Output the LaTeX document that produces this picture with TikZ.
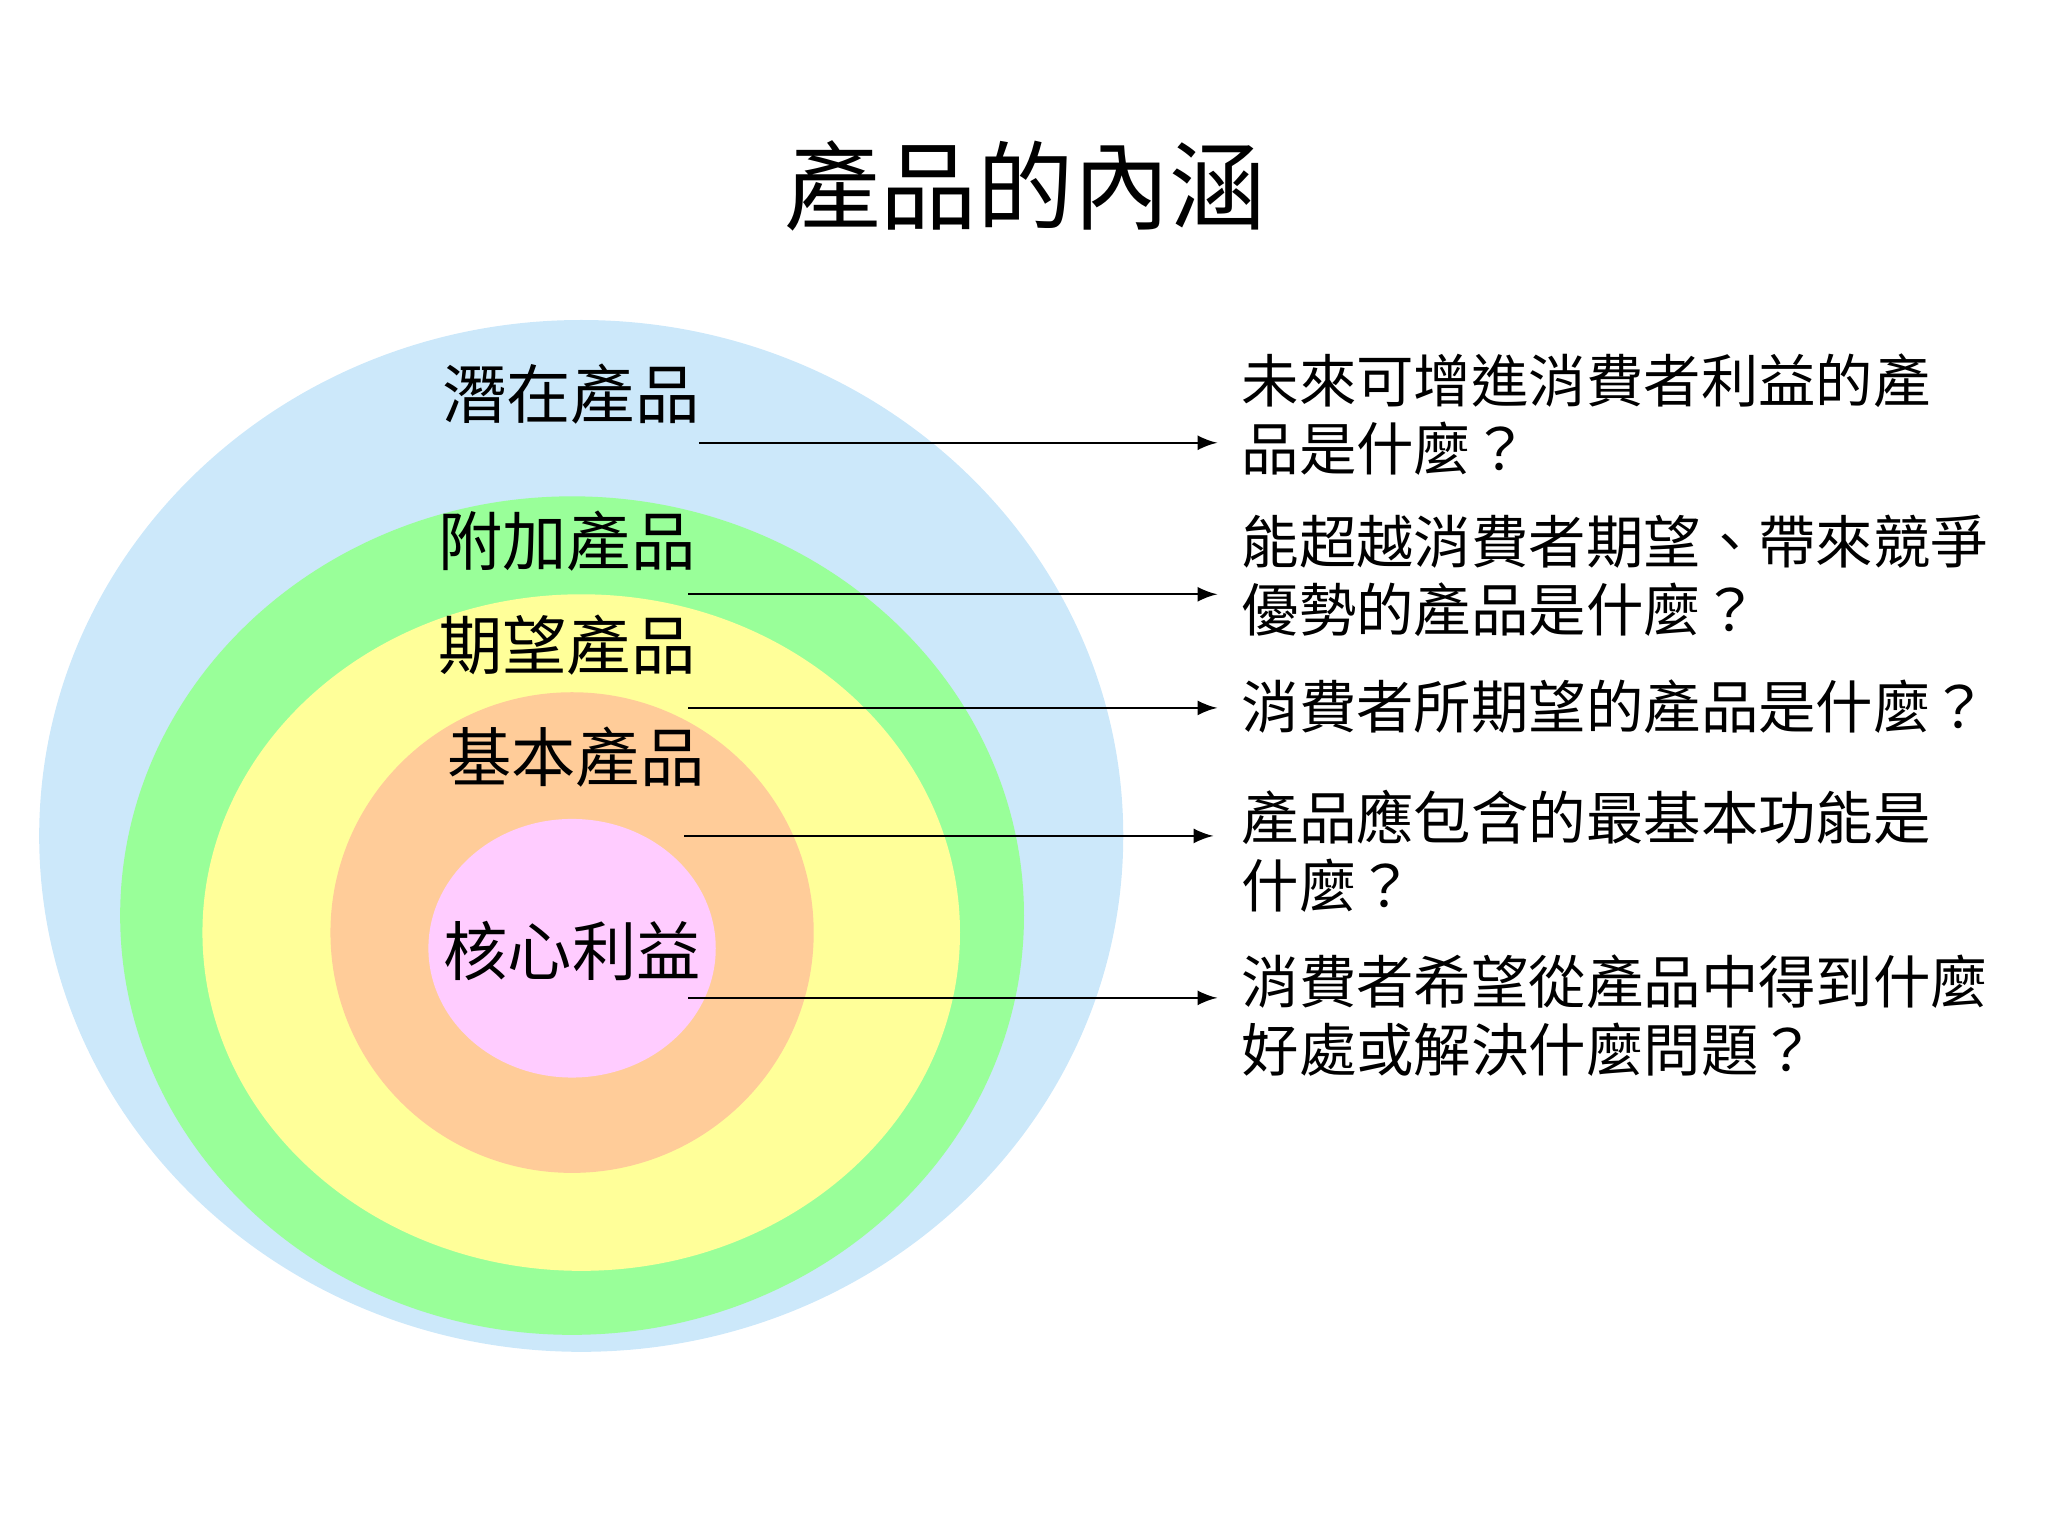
\documentclass[tikz,border=0pt]{standalone}
\usepackage{fontspec}
\newfontfamily\cjk{Noto Sans CJK TC}
\definecolor{cblue}{HTML}{CCE8FA}
\definecolor{cgreen}{HTML}{99FF99}
\definecolor{cyellow}{HTML}{FFFF99}
\definecolor{corange}{HTML}{FFCC99}
\definecolor{cpink}{HTML}{FFCCFF}
\begin{document}
\begin{tikzpicture}[x=0.01cm,y=-0.01cm,
  lbl/.style={font=\cjk\fontsize{14}{16}\selectfont},
  desc/.style={font=\cjk\fontsize{12.5}{14.8}\selectfont,anchor=north west,align=left,inner sep=0pt},
  arr/.style={-latex,line width=0.5pt}]
\useasboundingbox (0,0) rectangle (1568,1176);
\fill[cblue] (445,640) ellipse [x radius=415,y radius=395];
\fill[cgreen] (438,701) ellipse [x radius=346,y radius=321];
\fill[cyellow] (445,714) ellipse [x radius=290,y radius=259];
\fill[corange] (438,714) ellipse [x radius=185,y radius=184];
\fill[cpink] (438,726) ellipse [x radius=110,y radius=99];
\node[font=\cjk\fontsize{21}{24}\selectfont] (title) at (785,142) {產品的內涵};
\node[lbl] (l1) at (437,302) {潛在產品};
\node[lbl] (l2) at (434,414) {附加產品};
\node[lbl] (l3) at (434,494) {期望產品};
\node[lbl] (l4) at (441,580) {基本產品};
\node[lbl] (l5) at (438,728) {核心利益};
\coordinate (s1) at (535,339); \coordinate (e1) at (932,339);
\coordinate (s2) at (527,455); \coordinate (e2) at (932,455);
\coordinate (s3) at (527,542); \coordinate (e3) at (932,542);
\coordinate (s4) at (524,640); \coordinate (e4) at (929,640);
\coordinate (s5) at (527,764); \coordinate (e5) at (932,764);
\foreach \i in {1,...,5} \draw[arr] (s\i) -- (e\i);
\node[desc] (d1) at (950,270) {未來可增進消費者利益的產\\品是什麼？};
\node[desc] (d2) at (950,394) {能超越消費者期望、帶來競爭\\優勢的產品是什麼？};
\node[desc] (d3) at (950,520) {消費者所期望的產品是什麼？};
\node[desc] (d4) at (950,604) {產品應包含的最基本功能是\\什麼？};
\node[desc] (d5) at (950,730) {消費者希望從產品中得到什麼\\好處或解決什麼問題？};
\end{tikzpicture}
\end{document}
